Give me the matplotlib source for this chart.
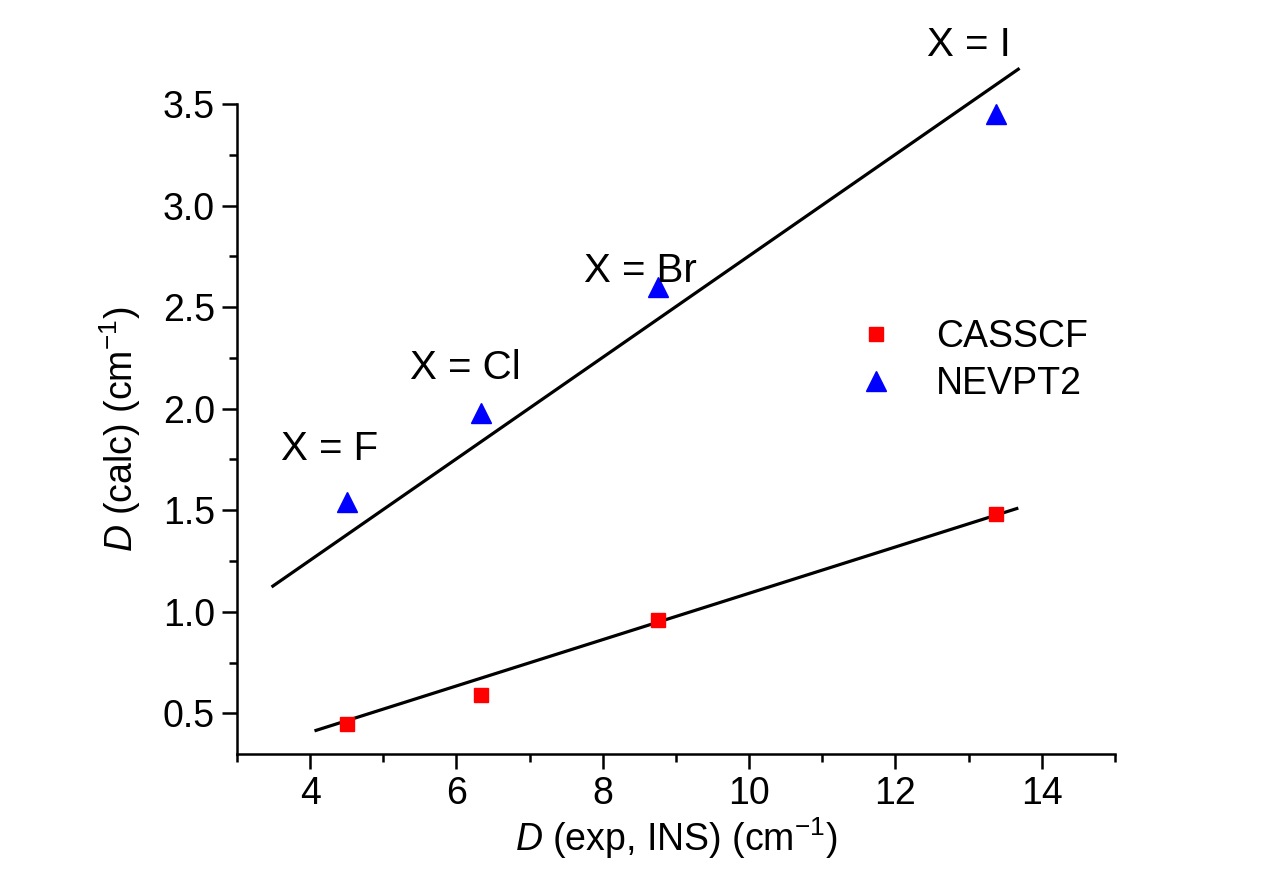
import numpy as np
import matplotlib
matplotlib.use('Agg')
import matplotlib.pyplot as plt
from matplotlib.ticker import MultipleLocator

plt.rcParams['font.family'] = ['Liberation Sans', 'DejaVu Sans']
plt.rcParams['mathtext.fontset'] = 'custom'
plt.rcParams['mathtext.rm'] = 'Liberation Sans'
plt.rcParams['mathtext.it'] = 'Liberation Sans:italic'

# 实验值 D (exp, INS)
d_exp = [4.5, 6.33, 8.75, 13.37]
# 计算值
casscf = [0.45, 0.59, 0.96, 1.48]
nevpt2 = [1.54, 1.98, 2.60, 3.45]
halides = ['X = F', 'X = Cl', 'X = Br', 'X = I']
label_pos = [(4.27, 1.80), (6.12, 2.20), (8.52, 2.68), (13.01, 3.79)]

# 拟合直线 (斜率, 截距, x范围)
fit_casscf = (0.114, -0.049, 4.08, 13.66)
fit_nevpt2 = (0.2497, 0.255, 3.49, 13.68)

fig = plt.figure(figsize=(12.77, 8.96), dpi=100)
ax = fig.add_axes([0.1856, 0.1585, 0.873 - 0.1856, 0.884 - 0.1585])

for k, b, x0, x1 in (fit_casscf, fit_nevpt2):
    xx = np.array([x0, x1])
    ax.plot(xx, k * xx + b, color='black', lw=2.3, clip_on=False, zorder=2)

ax.plot(d_exp, casscf, 's', color='#ff0000', ms=10, ls='none', label='CASSCF', zorder=3)
ax.plot(d_exp, nevpt2, '^', color='#0000ff', ms=14, ls='none', label='NEVPT2', zorder=3, clip_on=False)

for t, (tx, ty) in zip(halides, label_pos):
    ax.text(tx, ty, t, fontsize=29, ha='center', va='center')

ax.set_xlim(3, 15)
ax.set_ylim(0.3, 3.5)
ax.xaxis.set_minor_locator(MultipleLocator(1))
ax.yaxis.set_minor_locator(MultipleLocator(0.25))
ax.set_yticks([0.5, 1.0, 1.5, 2.0, 2.5, 3.0, 3.5])
ax.set_xticks([4, 6, 8, 10, 12, 14])

for s in ('top', 'right'):
    ax.spines[s].set_visible(False)
for s in ('left', 'bottom'):
    ax.spines[s].set_linewidth(1.8)

ax.tick_params(which='major', direction='out', length=11, width=1.8, labelsize=27, pad=5)
ax.tick_params(which='minor', direction='out', length=6, width=1.8)

ax.set_xlabel(r'$\mathit{D}$ (exp, INS) (cm$^{-1}$)', fontsize=27, labelpad=2)
ax.set_ylabel(r'$\mathit{D}$ (calc) (cm$^{-1}$)', fontsize=27, labelpad=14)

ax.legend(loc='center left', bbox_to_anchor=(0.685, 0.605), frameon=False, fontsize=27,
          handletextpad=1.0, labelspacing=0.3, handlelength=1.2, borderaxespad=0)

plt.savefig('out.png', dpi=100)
